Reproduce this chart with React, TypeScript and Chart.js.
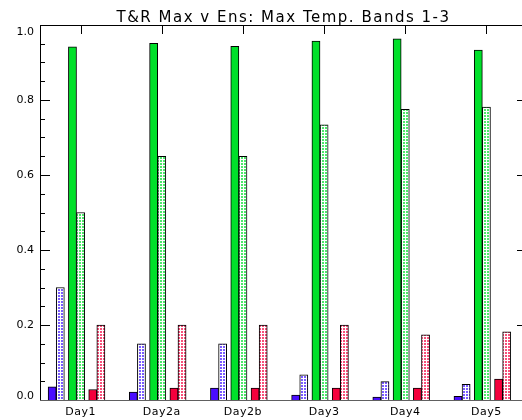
import React, { useEffect, useRef } from "react";
import { Chart, registerables } from "chart.js";

Chart.register(...registerables);

// Forecast days along the x axis
const categories = ["Day1", "Day2a", "Day2b", "Day3", "Day4", "Day5"];

// Band 1 (blue): T&R max and ensemble max
const band1Max = [0.035, 0.021, 0.032, 0.013, 0.0075, 0.01];
const band1Ens = [0.3, 0.15, 0.15, 0.067, 0.049, 0.042];
// Band 2 (green)
const band2Max = [0.942, 0.951, 0.943, 0.957, 0.963, 0.933];
const band2Ens = [0.5, 0.65, 0.65, 0.734, 0.775, 0.781];
// Band 3 (red)
const band3Max = [0.028, 0.032, 0.032, 0.032, 0.032, 0.056];
const band3Ens = [0.2, 0.2, 0.2, 0.2, 0.174, 0.182];

const yTicks = [0, 0.2, 0.4, 0.6, 0.8, 1.0];
const yMinorStep = 0.05;

const title = "T&R Max v Ens: Max Temp. Bands 1-3";

const BLUE = "#4a0cff";
const GREEN = "#00e02a";
const RED = "#f5003c";

const BLUE_DOT = "#7a5cff";
const GREEN_DOT = "#4ce86a";
const RED_DOT = "#f8507a";

// bar width in x-axis units (one day = 1)
const BAR_UNITS = 0.1;

// dotted fill: small coloured squares separated by white grid lines
function dottedFill(color: string): CanvasPattern | string {
  const tile = document.createElement("canvas");
  tile.width = 3;
  tile.height = 3;
  const c = tile.getContext("2d");
  if (!c) return color;
  c.fillStyle = "#ffffff";
  c.fillRect(0, 0, 3, 3);
  c.fillStyle = color;
  c.fillRect(1, 1, 2, 2);
  const ctx = document.createElement("canvas").getContext("2d");
  return (ctx && ctx.createPattern(tile, "repeat")) || color;
}

const FONT = "DejaVu Sans";

const framePlugin = {
  id: "idlFrame",
  beforeDatasetsDraw(chart: any) {
    const { ctx, chartArea: a, scales } = chart;
    const x = scales.x;
    ctx.save();
    ctx.strokeStyle = "#000";
    ctx.lineWidth = 1;
    ctx.beginPath();
    categories.forEach((_, i) => {
      const px = Math.round(x.getPixelForValue(i)) + 0.5;
      ctx.moveTo(px, a.bottom);
      ctx.lineTo(px, a.bottom - 9);
    });
    ctx.stroke();
    ctx.restore();
  },
  afterDatasetsDraw(chart: any) {
    const { ctx, chartArea: a, scales } = chart;
    const x = scales.x;
    const y = scales.y;
    ctx.save();
    ctx.lineWidth = 1;
    ctx.strokeStyle = "#000";

    // left and top borders, off-canvas right border
    ctx.beginPath();
    ctx.moveTo(a.left + 0.5, a.bottom);
    ctx.lineTo(a.left + 0.5, a.top + 0.5);
    ctx.lineTo(a.right + 0.5, a.top + 0.5);
    ctx.lineTo(a.right + 0.5, a.bottom);
    ctx.stroke();

    // top ticks at each day
    ctx.beginPath();
    categories.forEach((_, i) => {
      const px = Math.round(x.getPixelForValue(i)) + 0.5;
      ctx.moveTo(px, a.top);
      ctx.lineTo(px, a.top + 9);
    });
    ctx.stroke();

    // y ticks on both sides, inward
    ctx.beginPath();
    const n = Math.round(1 / yMinorStep);
    for (let k = 0; k <= n; k++) {
      const v = k * yMinorStep;
      const major = yTicks.some((t) => Math.abs(t - v) < 1e-6);
      const len = major ? 10 : 5;
      const py = Math.round(y.getPixelForValue(v)) + 0.5;
      ctx.moveTo(a.left, py);
      ctx.lineTo(a.left + len, py);
      ctx.moveTo(a.right, py);
      ctx.lineTo(a.right - len, py);
    }
    ctx.stroke();

    // bottom axis
    ctx.strokeStyle = "#606060";
    ctx.beginPath();
    ctx.moveTo(a.left, a.bottom + 0.5);
    ctx.lineTo(a.right, a.bottom + 0.5);
    ctx.stroke();

    // y labels
    ctx.fillStyle = "#000";
    ctx.font = `11px "${FONT}"`;
    ctx.textAlign = "right";
    ctx.textBaseline = "middle";
    yTicks.forEach((t) => {
      let py = y.getPixelForValue(t);
      py = Math.min(Math.max(py, a.top + 7), a.bottom - 4);
      ctx.fillText(t.toFixed(1), a.left - 6, py);
    });

    // category labels
    ctx.textAlign = "center";
    ctx.textBaseline = "alphabetic";
    (ctx as any).letterSpacing = "0.5px";
    categories.forEach((c, i) => {
      ctx.fillText(c, x.getPixelForValue(i), a.bottom + 15);
    });

    // title
    ctx.font = `15px "${FONT}"`;
    (ctx as any).letterSpacing = "1.5px";
    ctx.fillText(title, (a.left + a.right) / 2, a.top - 3);
    ctx.restore();
  },
};

export default function App() {
  const ref = useRef<HTMLCanvasElement | null>(null);

  useEffect(() => {
    if (!ref.current) return;
    const offsets = [-0.35, -0.25, -0.1, 0, 0.15, 0.25];
    const series = [
      { label: "Band 1 T&R", values: band1Max, fill: BLUE },
      { label: "Band 1 Ens", values: band1Ens, fill: dottedFill(BLUE_DOT) },
      { label: "Band 2 T&R", values: band2Max, fill: GREEN },
      { label: "Band 2 Ens", values: band2Ens, fill: dottedFill(GREEN_DOT) },
      { label: "Band 3 T&R", values: band3Max, fill: RED },
      { label: "Band 3 Ens", values: band3Ens, fill: dottedFill(RED_DOT) },
    ];
    const chart = new Chart(ref.current, {
      type: "bar",
      data: {
        datasets: series.map((s, k) => ({
          label: s.label,
          data: categories.map((_, i) => ({ x: i + offsets[k], y: s.values[i] })),
          backgroundColor: s.fill as any,
          borderColor: "#000",
          borderWidth: 1,
          borderSkipped: "start",
        })),
      },
      options: {
        responsive: false,
        animation: false,
        devicePixelRatio: 1,
        datasets: {
          bar: { grouped: false, categoryPercentage: 1, barPercentage: 1 },
        },
        layout: { padding: { left: 40, right: 13, top: 25, bottom: 20 } },
        plugins: { legend: { display: false }, tooltip: { enabled: false } },
        scales: {
          x: { type: "linear", min: -0.5, max: 5.5, offset: false, display: false },
          y: { type: "linear", min: 0, max: 1, display: false },
        },
      },
      plugins: [framePlugin],
    });
    // size each bar from the x scale so a pair of bars sits edge to edge
    const xs: any = chart.scales.x;
    const w = xs.getPixelForValue(BAR_UNITS) - xs.getPixelForValue(0);
    chart.data.datasets.forEach((d: any) => {
      d.barThickness = w;
    });
    chart.update();
    return () => chart.destroy();
  }, []);

  return (
    <div
      style={{
        position: "absolute",
        left: 0,
        top: 0,
        width: 522,
        height: 420,
        overflow: "hidden",
        background: "#fff",
      }}
    >
      <canvas ref={ref} width={540} height={420} style={{ display: "block" }} />
    </div>
  );
}
